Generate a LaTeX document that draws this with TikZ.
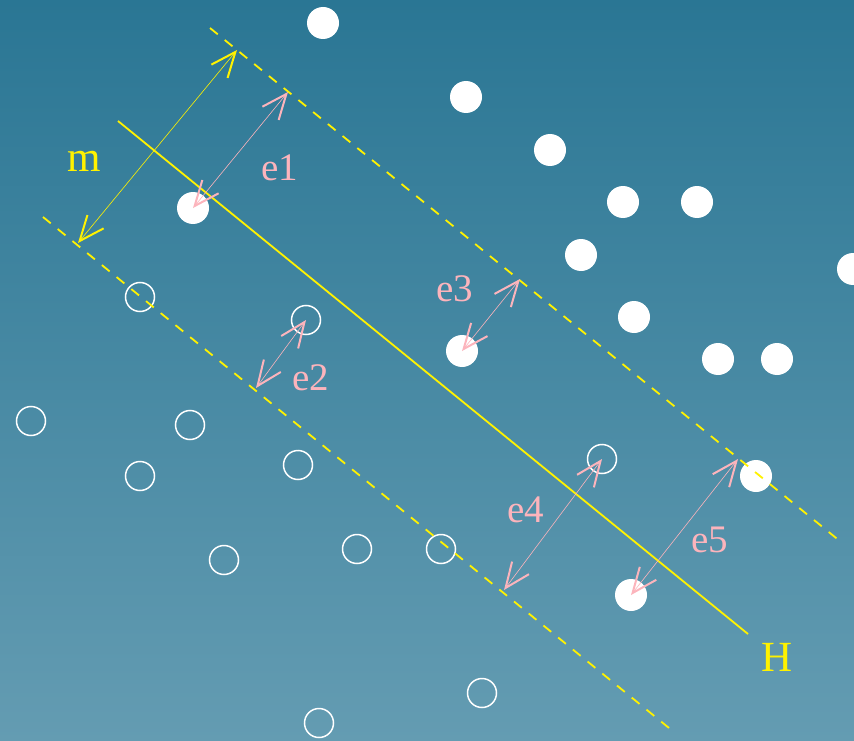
\documentclass[tikz,border=0pt]{standalone}
\usepackage{fontspec}
\setmainfont{Liberation Serif}
\usetikzlibrary{arrows.meta}
\definecolor{sfondoalto}{RGB}{42,118,148}
\definecolor{sfondobasso}{RGB}{100,156,178}
\definecolor{rosa}{RGB}{252,180,188}

\begin{document}
\begin{tikzpicture}[x=1pt, y=-1pt, >={Straight Barb[length=25pt,width=21pt,line width=2pt]}]
        % Stili
        \tikzstyle{pieno} = [circle, fill=white, minimum size=32pt, inner sep=0pt]
        \tikzstyle{vuoto} = [circle, draw=white, line width=1.5pt, minimum size=29pt, inner sep=0pt]
        \tikzstyle{retta} = [yellow, line width=1.8pt]
        \tikzstyle{margine} = [yellow, line width=1.8pt, dash pattern=on 10pt off 9pt]
        \tikzstyle{distanza} = [<->, rosa, line width=0.6pt]
        \tikzstyle{etichetta} = [rosa, font=\fontsize{39}{44}\selectfont]
        \tikzstyle{nome} = [yellow, font=\fontsize{43}{48}\selectfont]

        % Sfondo
        \shade [top color=sfondoalto, bottom color=sfondobasso] (0,0) rectangle (854,741);
        \useasboundingbox (0,0) rectangle (854,741);
        \clip (0,0) rectangle (854,741);

        % Punti
        \foreach \x/\y [count=\i] in {323/23, 466/97, 550/150, 623/202, 697/202, 581/255, 634/317,
                718/359, 777/359, 853/269, 193/208, 462/351, 756/476, 631/595}
            \node [pieno] (p\i) at (\x,\y) {};
        \foreach \x/\y [count=\i] in {140/297, 306/320, 31/421, 190/425, 140/476, 298/465,
                224/560, 357/549, 441/549, 482/693, 319/723, 602/459}
            \node [vuoto] (n\i) at (\x,\y) {};

        % Rette
        \coordinate (h1) at (118,121);
        \coordinate (h2) at (748,634);
        \coordinate (s1) at (210,28);
        \coordinate (s2) at (841,542);
        \coordinate (i1) at (43,217);
        \coordinate (i2) at (669,728);
        \draw [retta] (h1) -- (h2);
        \draw [margine] (s1) -- (s2);
        \draw [margine] (i1) -- (i2);

        % Estremi delle frecce
        \coordinate (m1) at (237,50);
        \coordinate (m2) at (78,243);
        \coordinate (d1) at (288,92);
        \coordinate (d2) at (256,388);
        \coordinate (d3) at (520,279);
        \coordinate (d4) at (504,590);
        \coordinate (d5) at (738,459);

        % Frecce
        \draw [distanza, yellow] (m1) -- (m2);
        \draw [distanza] (p11.center) -- (d1);
        \draw [distanza] (n2.center) -- (d2);
        \draw [distanza] (p12.center) -- (d3);
        \draw [distanza] (n12.center) -- (d4);
        \draw [distanza] (p14.center) -- (d5);

        % Etichette
        \node [nome] (m) at (84,161) {m};
        \node [nome] (H) at (777,657) {H};
        \node [etichetta] (e1) at (280,168) {e1};
        \node [etichetta] (e2) at (311,378) {e2};
        \node [etichetta] (e3) at (455,289) {e3};
        \node [etichetta] (e4) at (526,510) {e4};
        \node [etichetta] (e5) at (710,540) {e5};

    \end{tikzpicture}
\end{document}
